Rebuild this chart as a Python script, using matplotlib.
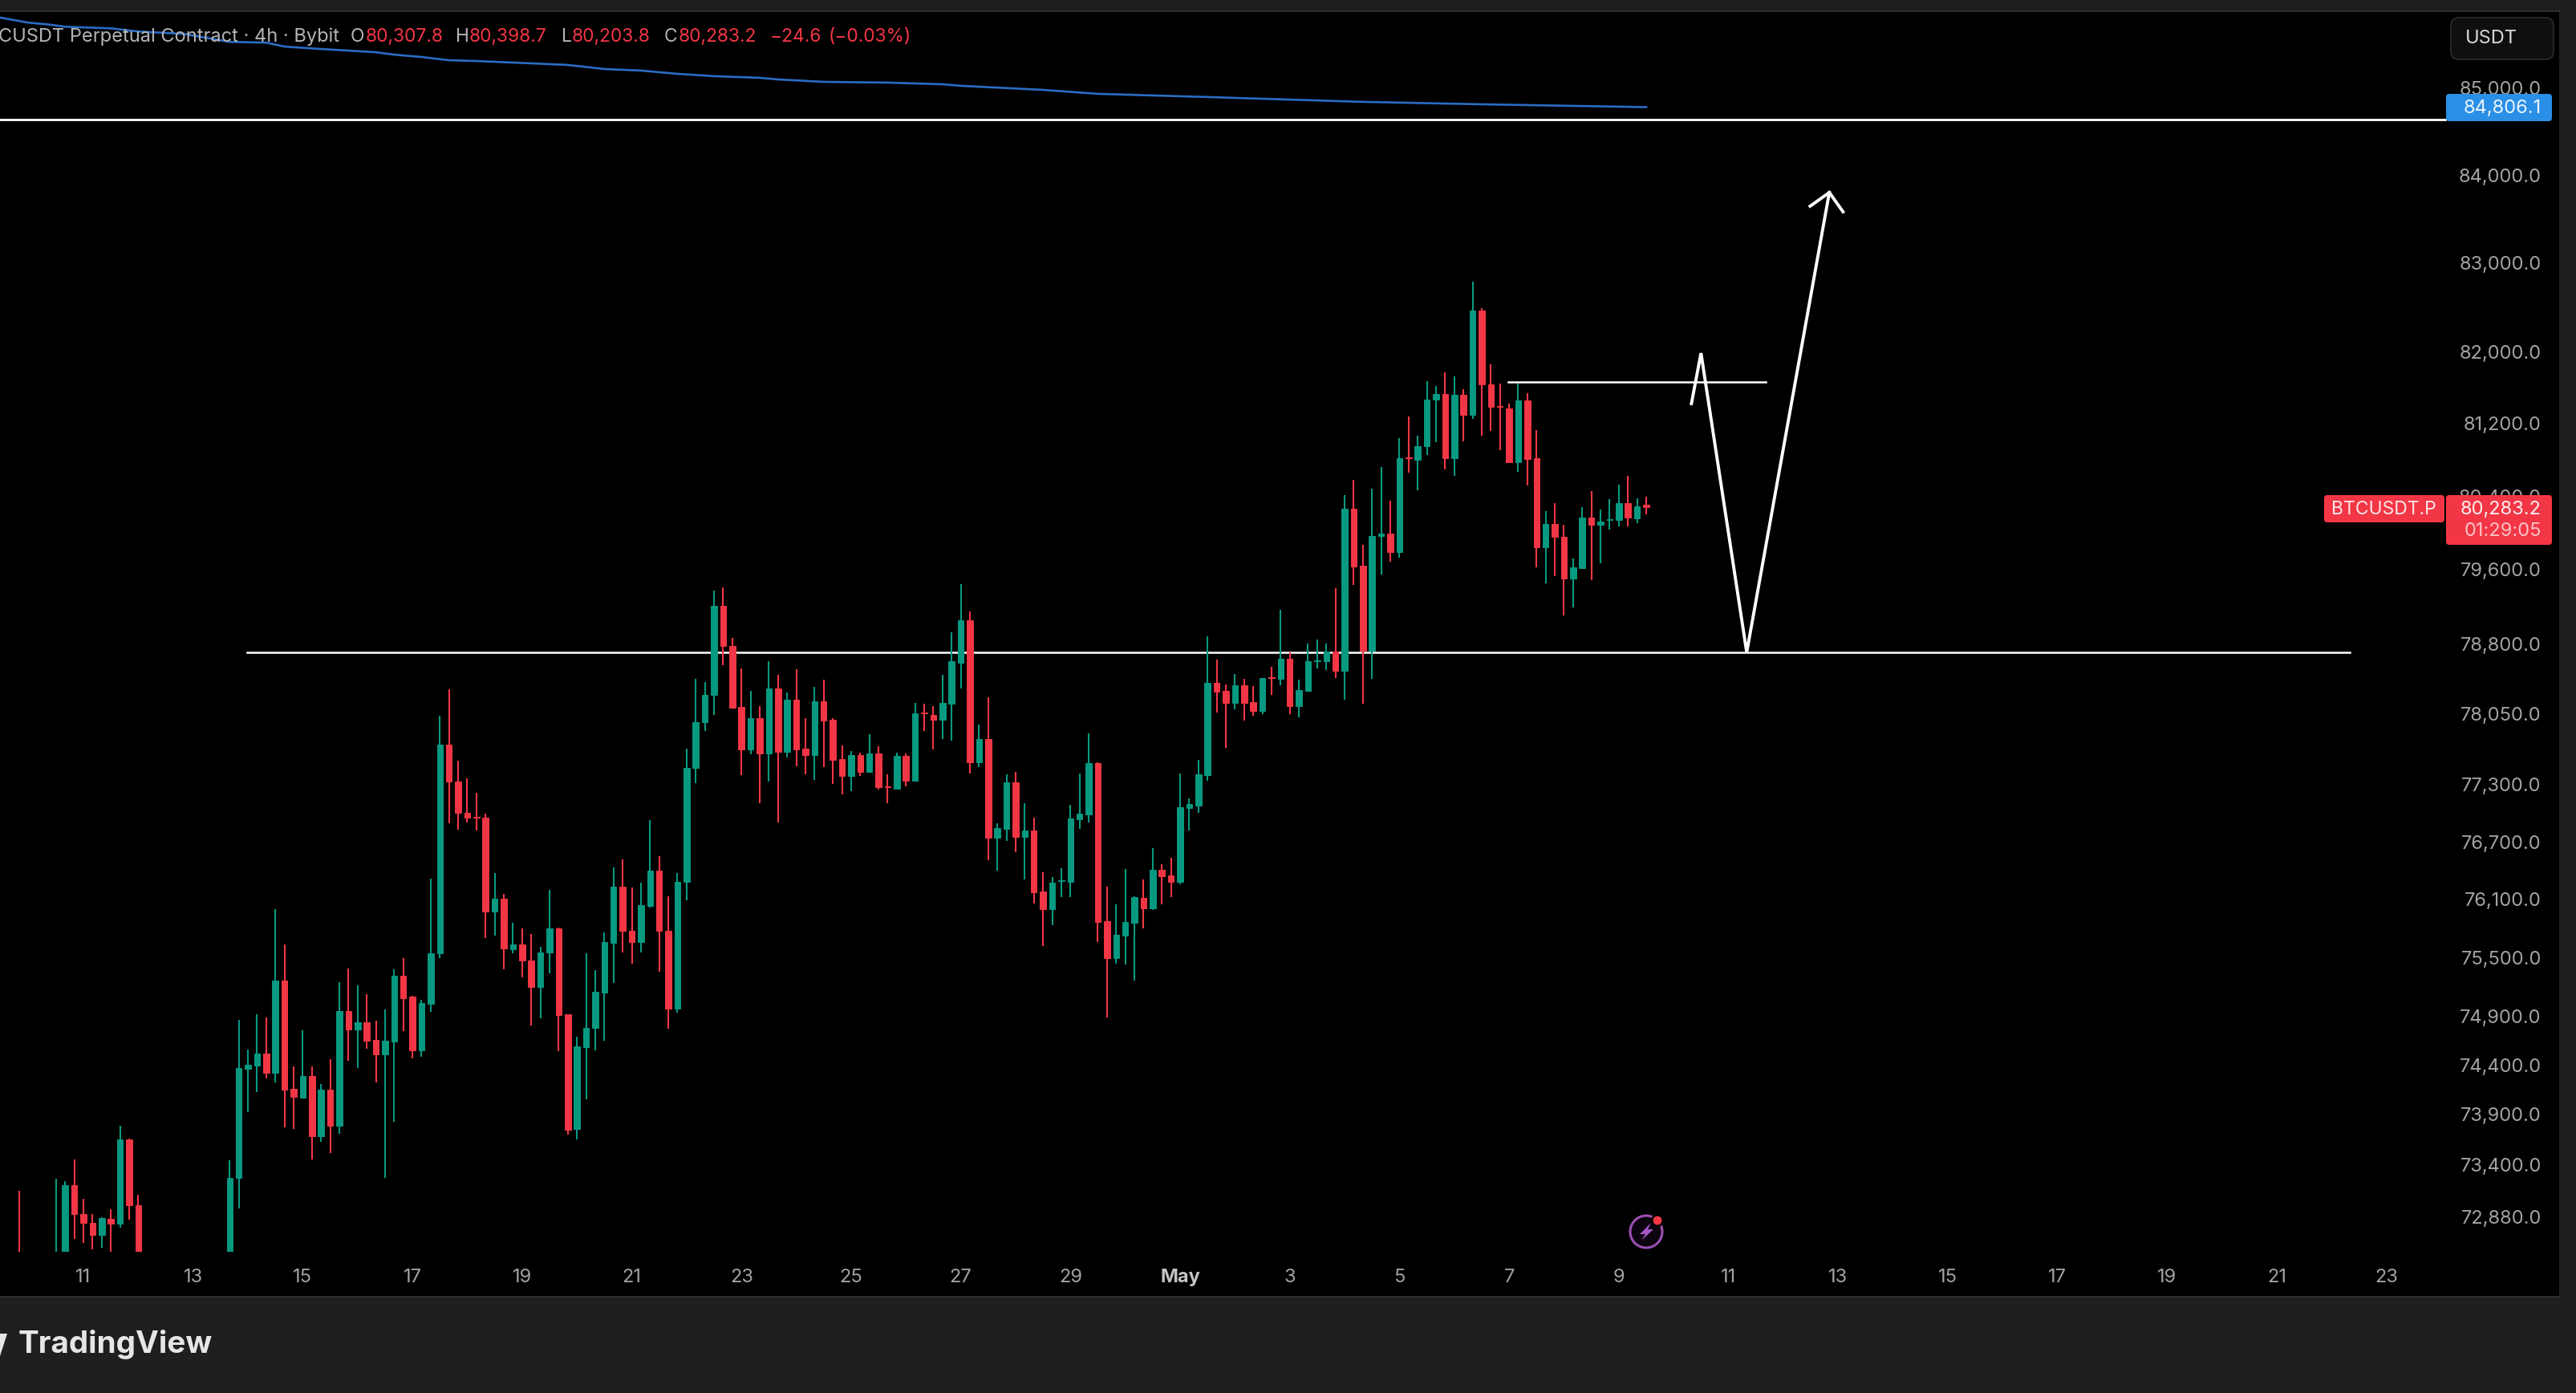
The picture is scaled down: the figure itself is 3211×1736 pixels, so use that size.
import matplotlib
matplotlib.use("Agg")
import matplotlib.pyplot as plt
from matplotlib.patches import Rectangle, FancyBboxPatch, Circle, Polygon
from matplotlib.ticker import NullLocator

plt.rcParams['font.family'] = ['Inter', 'DejaVu Sans']

# 4h bars, numbered from Apr 11 00:00. bars under the visible range are left out
bars = [-7] + list(range(-3, 7)) + list(range(16, 172))

opens = [72500, 72350, 72400, 73190, 72907, 72820, 72699, 72859, 72810, 73652, 72993,
    72400, 73262, 74364, 74397, 74518, 74325, 75266, 74160, 74069, 74292, 73685, 74154, 73787, 74954, 74763, 74833, 74653, 74508, 74639, 75309, 75095, 74551, 75028, 75541,
    77725, 77333, 77006, 76963, 76950, 75975, 76110, 75588, 75634, 75470, 75196, 75554, 75803, 74914, 73754, 74582, 74775, 75141, 75647, 76232, 75777, 75659, 76034, 76399, 75777, 74973, 76278, 77475, 77957, 78252,
    79212, 78777, 78122, 77674, 78004, 77632, 78323, 77650, 78202, 77680, 77610, 78185, 77990, 77573, 77388, 77615, 77438, 77632, 77281, 77256, 77600, 77337, 78062, 78039, 77987, 78159, 78599, 79056, 77539, 77785, 76739, 76831, 77320, 76747, 76815, 76183, 76002, 76288, 76285, 76933, 76983, 77531,
    75874, 75494, 75726, 75859, 76115, 76007, 76407, 76348, 76280, 77055, 77082, 77402, 78382, 78295, 78168, 78358, 78177, 78080, 78440, 78425, 78642, 78132, 78298, 78612, 78611, 78713, 78506, 80265, 79643, 78728, 79965, 79991, 79792, 80825, 80797, 80948, 81464, 81531, 80822, 81522, 81298, 82466, 81637, 81392, 81367, 80778, 81458, 80822, 79839, 80101, 79959, 79504, 79618, 80170, 80091, 80143, 80140, 80328, 80161, 80307.8]
highs = [73134, 73255, 73232, 73449, 73057, 72907, 72875, 72950, 73790, 73659, 73094,
    73442, 74860, 74557, 74921, 74887, 76000, 75638, 74387, 74750, 74387, 74210, 74459, 75242, 75386, 75212, 75125, 74854, 74967, 75380, 75493, 75105, 75061, 76313, 78032,
    78313, 77552, 77368, 77217, 76998, 76373, 76156, 75861, 75798, 75739, 75609, 76198, 75810, 74920, 74691, 75546, 75369, 75756, 76433, 76519, 76223, 76274, 76925, 76553, 76135, 76377, 77677, 78419, 78392, 79375,
    79407, 78864, 78536, 78294, 78134, 78614, 78470, 78277, 78522, 78004, 78341, 78418, 78001, 77717, 77652, 77635, 77834, 77708, 77405, 77640, 77629, 78165, 78159, 78134, 78470, 78924, 79442, 79143, 77933, 78225, 76890, 77405, 77436, 77107, 76949, 76384, 76330, 76423, 77084, 77413, 77843, 77539,
    76228, 76045, 76413, 76129, 76304, 76632, 76463, 76534, 77416, 77156, 77558, 78877, 78633, 78364, 78473, 78421, 78349, 78434, 78551, 79164, 78705, 78412, 78802, 78844, 78805, 79400, 80416, 80583, 79871, 80485, 80721, 80347, 81043, 81282, 81068, 81676, 81621, 81769, 81727, 81586, 82790, 82488, 81862, 81647, 81421, 81647, 81541, 81131, 80233, 80325, 80088, 79717, 80280, 80460, 80259, 80370, 80523, 80627, 80382, 80398.7]
lows = [72300, 72300, 72300, 72654, 72615, 72556, 72566, 72520, 72768, 72845, 72350,
    72300, 72960, 73928, 74125, 74262, 74224, 73773, 73754, 74062, 73449, 73623, 73515, 73708, 74446, 74370, 74567, 74223, 73262, 73829, 74746, 74469, 74488, 74943, 75491,
    76894, 76830, 76903, 76818, 75701, 75727, 75377, 75546, 75293, 74805, 74876, 75339, 74545, 73700, 73647, 74050, 74553, 74648, 75238, 75554, 75432, 75554, 76013, 75352, 74767, 74935, 76093, 77312, 77871, 78041,
    78565, 78105, 77399, 77618, 77103, 77336, 76906, 77590, 77497, 77405, 77349, 77483, 77310, 77197, 77230, 77388, 77438, 77250, 77107, 77250, 77278, 77332, 77869, 77674, 77783, 77769, 78323, 77413, 77488, 76505, 76402, 76713, 76590, 76310, 76060, 75614, 75829, 76125, 76125, 76831, 76899, 75655,
    74885, 75439, 75424, 75265, 75796, 75993, 76048, 76123, 76257, 76821, 77000, 77345, 78065, 77692, 78098, 77978, 78029, 78047, 78252, 78352, 78047, 78014, 78298, 78539, 78516, 78429, 78204, 79437, 78158, 78420, 79550, 79689, 79733, 80658, 80463, 80857, 80992, 80699, 80621, 81002, 81257, 81071, 81116, 80906, 80770, 80668, 80517, 79621, 79452, 79526, 79103, 79190, 79612, 79490, 79668, 80032, 80067, 80067, 80105, 80203.8]
closes = [72400, 72480, 73190, 72904, 72820, 72699, 72862, 72807, 73652, 72992, 72450,
    73265, 74370, 74403, 74518, 74325, 75266, 74154, 74075, 74292, 73685, 74154, 73787, 74954, 74763, 74833, 74646, 74508, 74646, 75309, 75085, 74551, 75034, 75546, 77725,
    77333, 77006, 76950, 76955, 75975, 76110, 75592, 75638, 75470, 75196, 75554, 75803, 74910, 73750, 74590, 74775, 75146, 75655, 76232, 75773, 75659, 76042, 76399, 75773, 74973, 76282, 77479, 77961, 78256, 79212,
    78772, 78113, 77674, 78004, 77632, 78323, 77650, 78202, 77674, 77610, 78185, 77978, 77565, 77388, 77615, 77438, 77632, 77270, 77273, 77600, 77337, 78056, 78053, 77987, 78168, 78608, 79056, 77539, 77785, 76739, 76840, 77320, 76747, 76815, 76175, 76002, 76274, 76296, 76941, 76992, 77531, 75870,
    75494, 75735, 75865, 76120, 76007, 76407, 76339, 76280, 77064, 77094, 77410, 78382, 78289, 78168, 78358, 78168, 78080, 78434, 78431, 78642, 78132, 78304, 78615, 78621, 78713, 78506, 80265, 79637, 78728, 79965, 79991, 79792, 80822, 80816, 80954, 81470, 81531, 80822, 81522, 81301, 82466, 81634, 81383, 81383, 80778, 81458, 80813, 79839, 80101, 79953, 79504, 79621, 80170, 80091, 80123, 80152, 80328, 80164, 80294, 80283.2]

# moving average at the top of the chart
ma_bars = [-10, -6, -4, -2, 3, 6, 11, 16, 20, 22, 26, 32, 34, 37, 40, 43, 47, 53, 57, 61, 65, 69, 74, 76, 81, 88, 94, 96, 105, 111, 123, 140, 153, 171]
ma_vals = [85840, 85763, 85744, 85716, 85697, 85660, 85632, 85539, 85530, 85484, 85456, 85418, 85390, 85363, 85325, 85316, 85298, 85270, 85223, 85205, 85167, 85140, 85121, 85102, 85074, 85065, 85046, 85028, 84981, 84935, 84898, 84842, 84814, 84781]

# hand drawn lines
top_line_bars = [-10, 258.4]
top_line_price = [84638, 84638]
support_bars = [17.9, 248.0]
support_price = [78707, 78707]
res_bars = [155.9, 184.1]
res_price = [81664, 81664]
path_bars = [175.95, 177.0, 182.0, 191.04]
path_price = [81422, 81985, 78707, 83800]
head_bars = [188.94, 191.04, 192.54]
head_price = [83644, 83800, 83580]

price_ticks = [85000, 84000, 83000, 82000, 81200, 80400, 79600, 78800, 78050, 77300, 76700, 76100, 75500, 74900, 74400, 73900, 73400, 72880]
date_ticks = list(range(0, 253, 12))
date_labels = ['11', '13', '15', '17', '19', '21', '23', '25', '27', '29', 'May', '3', '5', '7', '9', '11', '13', '15', '17', '19', '21', '23']

W, H = 3211, 1736
GREEN = '#089981'
RED = '#f23645'
FRAME = '#1f1f1f'
TICK = '#a3a3a3'

fig = plt.figure(figsize=(W / 100, H / 100), dpi=100, facecolor=FRAME)

# black panel reaches below the candles, down to the date labels
panel = Rectangle((0, 1 - 1616 / H), 3190 / W, (1616 - 14) / H, transform=fig.transFigure,
                  facecolor='black', edgecolor='none', zorder=-1)
fig.add_artist(panel)

ax = fig.add_axes([0, 1 - 1560 / H, 3190 / W, (1560 - 14) / H], facecolor='black')
ax.set_yscale('log')
ax.set_xlim(-9.13, 270.9)
ax.set_ylim(72530, 85897)
for s in ax.spines.values():
    s.set_visible(False)

colors = [RED if c < o else GREEN for o, c in zip(opens, closes)]
ax.vlines(bars, lows, highs, colors=colors, linewidth=1.5, zorder=2)
ax.bar(bars, [abs(c - o) for o, c in zip(opens, closes)], bottom=[min(o, c) for o, c in zip(opens, closes)],
       width=0.66, color=colors, edgecolor=colors, linewidth=0.7, zorder=3)

ax.plot(ma_bars, ma_vals, color='#2b6cc4', linewidth=1.9, zorder=2)

ax.plot(top_line_bars, top_line_price, color='white', linewidth=2.0, zorder=4)
ax.plot(support_bars, support_price, color='#f2f2f2', linewidth=1.9, zorder=1)
ax.plot(res_bars, res_price, color='white', linewidth=1.8, zorder=4)
ax.plot(path_bars, path_price, color='white', linewidth=2.8, zorder=4, solid_joinstyle='miter')
ax.plot(head_bars, head_price, color='white', linewidth=2.8, zorder=4, solid_joinstyle='miter')

ax.yaxis.set_minor_locator(NullLocator())
ax.set_yticks(price_ticks)
ax.set_yticklabels([f'{p:,.1f}' for p in price_ticks])
ax.yaxis.tick_right()
ax.tick_params(axis='y', length=0, pad=-16, labelsize=17, labelcolor=TICK)
for lab in ax.get_yticklabels():
    lab.set_ha('right')
ax.set_xticks(date_ticks)
ax.set_xticklabels(date_labels)
ax.tick_params(axis='x', length=0, pad=15, labelsize=17, labelcolor=TICK)
for lab in ax.get_xticklabels():
    if lab.get_text() == 'May':
        lab.set_fontweight('bold')
        lab.set_color('#c4c4c4')

# overlay in pixels for the app furniture
ov = fig.add_axes([0, 0, 1, 1], facecolor='none')
ov.set_xlim(0, W)
ov.set_ylim(H, 0)
ov.axis('off')

# thin borders of the black panel
ov.plot([0, 3190], [14, 14], color='#333333', linewidth=1.2)
ov.plot([0, 3190], [1616, 1616], color='#333333', linewidth=1.2)

def label_box(x0, y0, x1, y1, color):
    ov.add_patch(FancyBboxPatch((x0 + 3, y0 + 3), x1 - x0 - 6, y1 - y0 - 6, boxstyle='round,pad=3,rounding_size=4',
                                facecolor=color, edgecolor='none'))

ov.add_patch(FancyBboxPatch((3061, 28), 116, 40, boxstyle='round,pad=6,rounding_size=10',
                            facecolor='#0f0f0f', edgecolor='#2c2c2c', linewidth=1.2))
ov.text(3073, 48, 'USDT', color='#d8d8d8', fontsize=17, va='center', ha='left')

label_box(3049, 117, 3181, 151, '#2a8fe6')
ov.text(3168, 135, '84,806.1', color='#eaf4fd', fontsize=17, va='center', ha='right')
label_box(2897, 617, 3047, 651, RED)
ov.text(2906, 635, 'BTCUSDT.P', color='#fbe6e8', fontsize=16.5, va='center', ha='left')
label_box(3049, 617, 3181, 679, RED)
ov.text(3168, 635, '80,283.2', color='#fdeeef', fontsize=17, va='center', ha='right')
ov.text(3168, 662, '01:29:05', color='#f9c3c8', fontsize=17, va='center', ha='right')

# legend line over the chart
ov.text(-2, 46, 'CUSDT Perpetual Contract · 4h · Bybit', color='#b4b4b4', fontsize=17, va='center', ha='left')
legend_bits = [(437, 'O', '#b4b4b4'), (456, '80,307.8', RED),
               (568, 'H', '#b4b4b4'), (585, '80,398.7', RED),
               (700, 'L', '#b4b4b4'), (713, '80,203.8', RED),
               (828, 'C', '#b4b4b4'), (846, '80,283.2', RED),
               (960, '−24.6', RED), (1033, '(−0.03%)', RED)]
for x, s, col in legend_bits:
    ov.text(x, 46, s, color=col, fontsize=16.4, va='center', ha='left')

# flash icon
ov.add_patch(Circle((2052, 1535), 20, facecolor='#0c0410', edgecolor='#9b4fb2', linewidth=2.2))
ov.add_patch(Polygon([(2058, 1524), (2044, 1538), (2051, 1538), (2046, 1546), (2061, 1532), (2054, 1532)],
                     closed=True, facecolor='#a455c0', edgecolor='none'))
ov.add_patch(Circle((2066, 1521), 8, facecolor='black', edgecolor='none'))
ov.add_patch(Circle((2066, 1521), 5.5, facecolor=RED, edgecolor='none'))

# footer
ov.add_patch(Polygon([(0, 1662), (9, 1662), (0, 1690)], closed=True, facecolor='#e6e6e6', edgecolor='none'))
ov.text(23, 1676, 'TradingView', color='#e6e6e6', fontsize=27.8, fontweight='bold', va='center', ha='left')

fig.savefig('out.png', dpi=100, facecolor=FRAME)
